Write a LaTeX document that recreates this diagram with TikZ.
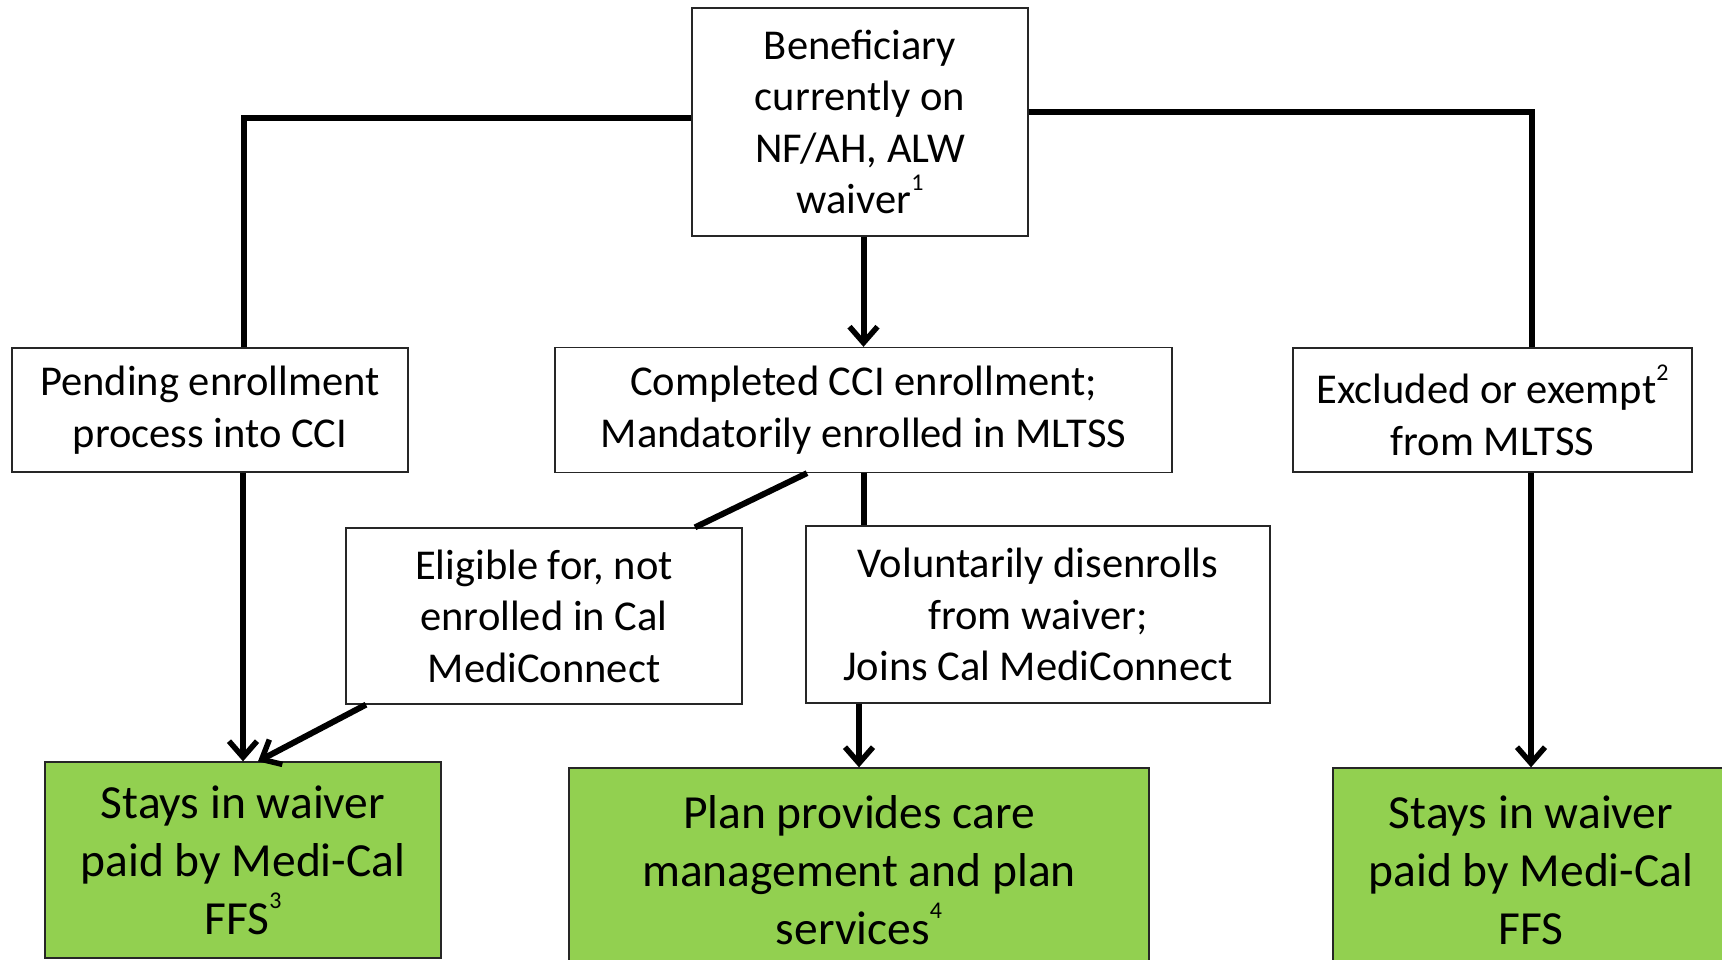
\documentclass[tikz,border=0pt]{standalone}
\usepackage{fontspec}
\setmainfont{Carlito}
\usetikzlibrary{arrows.meta,calc}
\definecolor{boxgreen}{HTML}{92D050}
\newcommand{\supnum}[1]{\raisebox{0.55em}{\fontsize{24}{24}\selectfont #1}}
\tikzset{
  box/.style={draw=black!85, line width=1.3pt, fill=white, inner sep=0pt, align=center,
    font=\fontsize{42.5}{51.6}\selectfont},
  endbox/.style={box, fill=boxgreen, font=\fontsize{47.5}{58}\selectfont},
  conn/.style={line width=6pt, black},
  arr/.style={conn, -{Straight Barb[length=16pt,width=28pt,line width=5.5pt]}},
}
\begin{document}
\begin{tikzpicture}[x=1pt,y=-1pt]
\clip (0,0) rectangle (1722,960);
\fill[white] (0,0) rectangle (1722,960);

\node[box, minimum width=336pt, minimum height=228pt] (top) at (860,122)
  {Beneficiary\\currently on\\NF/AH, ALW\\waiver\supnum{1}};
\node[box, minimum width=396pt, minimum height=124pt] (pend) at (210,410)
  {Pending enrollment\\process into CCI};
\node[box, minimum width=617pt, minimum height=125pt] (comp) at (863.5,410)
  {Completed CCI enrollment;\\Mandatorily enrolled in MLTSS};
\node[box, minimum width=399pt, minimum height=124pt] (excl) at (1492.5,410)
  {Excluded or exempt\supnum{2}\\from MLTSS};
\node[box, minimum width=396pt, minimum height=176pt] (elig) at (544,616)
  {Eligible for, not\\enrolled in Cal\\MediConnect};
\node[box, minimum width=464pt, minimum height=177pt] (vol) at (1038,614.5)
  {Voluntarily disenrolls\\from waiver;\\Joins Cal MediConnect};
\node[endbox, minimum width=396pt, minimum height=196pt] (gl) at (243,860)
  {Stays in waiver\\paid by Medi-Cal\\FFS\supnum{3}};
\node[endbox, minimum width=580pt, minimum height=204pt] (gm) at (859,870)
  {Plan provides care\\management and plan\\services\supnum{4}};
\node[endbox, minimum width=396pt, minimum height=204pt] (gr) at (1531,870)
  {Stays in waiver\\paid by Medi-Cal\\FFS};

\draw[conn] ([yshift=3.5pt]top.west) -| ([xshift=33.5pt]pend.north);
\draw[conn] ([yshift=10pt]top.east) -| ([xshift=39.5pt]excl.north);
\draw[arr] (top.south -| comp.north) -- (comp.north);
\draw[arr] (pend.south -| gl.north) -- (gl.north);
\draw[conn] ([xshift=-56.5pt]comp.south) -- ([xshift=151pt]elig.north);
\draw[arr] ([xshift=-178pt]elig.south) -- ([xshift=15pt]gl.north);
\draw[conn] (comp.south) -- (comp.south |- vol.north);
\draw[arr] (gm.north |- vol.south) -- (gm.north);
\draw[arr] (gr.north |- excl.south) -- (gr.north);
\end{tikzpicture}
\end{document}
